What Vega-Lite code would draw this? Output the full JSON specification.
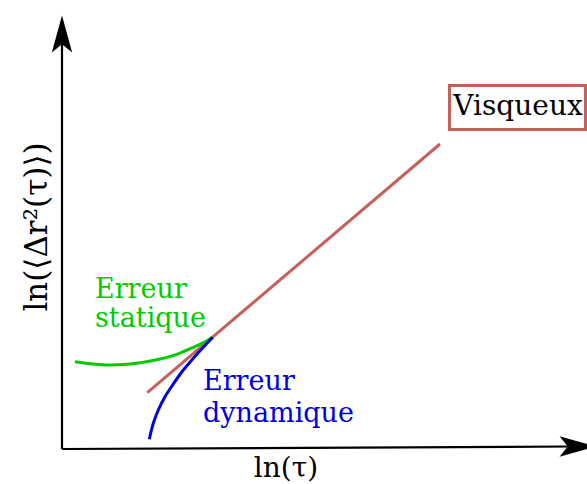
{
  "$schema": "https://vega.github.io/schema/vega-lite/v6.json",
  "autosize": {"type": "none"},
  "width": 587,
  "height": 484,
  "padding": 0,
  "background": "white",
  "config": {"view": {"stroke": null}},
  "datasets": {
    "axes": [
      {"axe": "y", "o": 0, "x": 0, "y": 0},
      {"axe": "y", "o": 1, "x": 0, "y": 8.14},
      {"axe": "x", "o": 0, "x": 0, "y": 0},
      {"axe": "x", "o": 1, "x": 10.16, "y": 0.05}
    ],
    "heads": [
      {"axe": "y", "x": 0, "y": 8.3, "angle": 0},
      {"axe": "x", "x": 10.32, "y": 0.05, "angle": 90}
    ],
    "curves": [
      {"serie": "visqueux", "o": 0, "x": 1.706, "y": 1.126},
      {"serie": "visqueux", "o": 1, "x": 7.56, "y": 6.1},
      {"serie": "statique", "o": 0, "x": 0.26, "y": 1.746},
      {"serie": "statique", "o": 1, "x": 0.626, "y": 1.7},
      {"serie": "statique", "o": 2, "x": 0.96, "y": 1.68},
      {"serie": "statique", "o": 3, "x": 1.294, "y": 1.694},
      {"serie": "statique", "o": 4, "x": 1.626, "y": 1.734},
      {"serie": "statique", "o": 5, "x": 1.96, "y": 1.8},
      {"serie": "statique", "o": 6, "x": 2.294, "y": 1.894},
      {"serie": "statique", "o": 7, "x": 2.626, "y": 2.034},
      {"serie": "statique", "o": 8, "x": 2.826, "y": 2.126},
      {"serie": "statique", "o": 9, "x": 3.014, "y": 2.234},
      {"serie": "dynamique", "o": 0, "x": 3.014, "y": 2.234},
      {"serie": "dynamique", "o": 1, "x": 2.826, "y": 2.034},
      {"serie": "dynamique", "o": 2, "x": 2.626, "y": 1.814},
      {"serie": "dynamique", "o": 3, "x": 2.426, "y": 1.58},
      {"serie": "dynamique", "o": 4, "x": 2.226, "y": 1.3},
      {"serie": "dynamique", "o": 5, "x": 2.06, "y": 1.046},
      {"serie": "dynamique", "o": 6, "x": 1.926, "y": 0.78},
      {"serie": "dynamique", "o": 7, "x": 1.826, "y": 0.514},
      {"serie": "dynamique", "o": 8, "x": 1.746, "y": 0.194}
    ],
    "box": [
      {"x": 7.75, "x2": 10.47, "y": 6.39, "y2": 7.27}
    ],
    "labels": [
      {"t": "Erreur", "serie": "statique", "x": 0.66, "y": 3.02},
      {"t": "statique", "serie": "statique", "x": 0.66, "y": 2.44},
      {"t": "Erreur", "serie": "dynamique", "x": 2.82, "y": 1.18},
      {"t": "dynamique", "serie": "dynamique", "x": 2.82, "y": 0.54}
    ],
    "titles": [
      {"t": "Visqueux", "x": 9.12, "y": 6.68},
      {"t": "ln(τ)", "x": 4.48, "y": -0.56}
    ],
    "ytitle": [
      {"t": "ln(⟨Δr²(τ)⟩)", "x": -0.3, "y": 4.44}
    ]
  },
  "layer": [
    {
      "data": {"name": "axes"},
      "mark": {"type": "line", "color": "black", "strokeWidth": 2.2},
      "encoding": {
        "x": {"field": "x", "type": "quantitative", "scale": {"domain": [-1.24, 10.5], "nice": false, "zero": false}, "axis": null},
        "y": {"field": "y", "type": "quantitative", "scale": {"domain": [-0.7, 8.98], "nice": false, "zero": false}, "axis": null},
        "detail": {"field": "axe"},
        "order": {"field": "o"}
      }
    },
    {
      "data": {"name": "heads"},
      "mark": {"type": "point", "shape": "M0,-1 L0.55,1 L0,0.55 L-0.55,1 Z", "filled": true, "color": "black", "opacity": 1, "size": 1369},
      "encoding": {
        "x": {"field": "x", "type": "quantitative", "axis": null},
        "y": {"field": "y", "type": "quantitative", "axis": null},
        "angle": {"field": "angle", "type": "quantitative", "scale": null}
      }
    },
    {
      "data": {"name": "curves"},
      "mark": {"type": "line", "strokeWidth": 3, "interpolate": "catmull-rom"},
      "encoding": {
        "x": {"field": "x", "type": "quantitative", "axis": null},
        "y": {"field": "y", "type": "quantitative", "axis": null},
        "color": {"field": "serie", "type": "nominal", "scale": {"domain": ["visqueux", "statique", "dynamique"], "range": ["#c5605a", "#00cc00", "#0000dd"]}, "legend": null},
        "order": {"field": "o"}
      }
    },
    {
      "data": {"name": "box"},
      "mark": {"type": "rect", "fill": "white", "stroke": "#c5605a", "strokeWidth": 3},
      "encoding": {
        "x": {"field": "x", "type": "quantitative", "axis": null},
        "x2": {"field": "x2"},
        "y": {"field": "y", "type": "quantitative", "axis": null},
        "y2": {"field": "y2"}
      }
    },
    {
      "data": {"name": "labels"},
      "mark": {"type": "text", "font": "DejaVu Serif", "fontSize": 27, "align": "left", "baseline": "alphabetic"},
      "encoding": {
        "x": {"field": "x", "type": "quantitative", "axis": null},
        "y": {"field": "y", "type": "quantitative", "axis": null},
        "text": {"field": "t"},
        "color": {"field": "serie", "type": "nominal", "scale": {"domain": ["visqueux", "statique", "dynamique"], "range": ["#c5605a", "#00cc00", "#0000dd"]}, "legend": null}
      }
    },
    {
      "data": {"name": "titles"},
      "mark": {"type": "text", "font": "DejaVu Serif", "fontSize": 28, "align": "center", "baseline": "alphabetic", "color": "black"},
      "encoding": {
        "x": {"field": "x", "type": "quantitative", "axis": null},
        "y": {"field": "y", "type": "quantitative", "axis": null},
        "text": {"field": "t"}
      }
    },
    {
      "data": {"name": "ytitle"},
      "mark": {"type": "text", "font": "DejaVu Serif", "fontSize": 31, "align": "center", "baseline": "alphabetic", "color": "black", "angle": 270},
      "encoding": {
        "x": {"field": "x", "type": "quantitative", "axis": null},
        "y": {"field": "y", "type": "quantitative", "axis": null},
        "text": {"field": "t"}
      }
    }
  ]
}
